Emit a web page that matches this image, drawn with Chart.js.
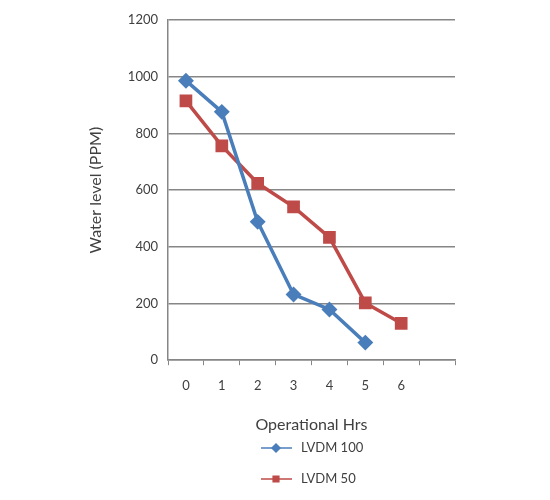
<!DOCTYPE html>
<html lang="en">
<head>
  <meta charset="UTF-8" />
  <title>Water level vs operational hours</title>
  <style>
    html, body { margin: 0; padding: 0; background: #fff; }
    #wrap { width: 550px; height: 500px; }
  </style>
</head>
<body>
  <div id="wrap"><canvas id="chart" width="550" height="500"></canvas></div>

  <script src="https://cdn.jsdelivr.net/npm/chart.js"></script>
  <script>
    // data
    const hours = ["0", "1", "2", "3", "4", "5", "6", ""];
    const lvdm100 = [986, 876, 488, 232, 179, 62];
    const lvdm50 = [915, 756, 624, 541, 433, 202, 130];
    const yTicks = [0, 200, 400, 600, 800, 1000, 1200];

    const blue = "#4a7ebb";
    const red = "#be4b48";
    const font = "Lato, 'Open Sans', sans-serif";

    // legend with line through the marker, drawn under the axis title
    const lineLegend = {
      id: "lineLegend",
      afterDraw(chart) {
        const ctx = chart.ctx;
        const items = [
          { text: "LVDM 100", color: blue, style: "rectRot", y: 448 },
          { text: "LVDM 50", color: red, style: "rect", y: 479 }
        ];
        ctx.save();
        items.forEach(it => {
          ctx.strokeStyle = it.color;
          ctx.fillStyle = it.color;
          ctx.lineWidth = 1.5;
          ctx.beginPath();
          ctx.moveTo(261, it.y);
          ctx.lineTo(292, it.y);
          ctx.stroke();
          Chart.helpers.drawPoint(ctx, { pointStyle: it.style, radius: 4, borderWidth: 1 }, 276, it.y);
          ctx.fillStyle = "#404040";
          ctx.font = "13px " + font;
          ctx.textBaseline = "middle";
          ctx.textAlign = "left";
          ctx.fillText(it.text, 301, it.y);
        });
        ctx.restore();
      }
    };

    new Chart(document.getElementById("chart"), {
      type: "line",
      data: {
        labels: hours,
        datasets: [
          {
            label: "LVDM 100",
            data: lvdm100,
            borderColor: blue,
            backgroundColor: blue,
            borderWidth: 3.5,
            pointStyle: "rectRot",
            pointRadius: 5.5,
            pointHoverRadius: 5.5,
            tension: 0
          },
          {
            label: "LVDM 50",
            data: lvdm50,
            borderColor: red,
            backgroundColor: red,
            borderWidth: 3.5,
            pointStyle: "rect",
            pointRadius: 6.5,
            pointHoverRadius: 6.5,
            tension: 0
          }
        ]
      },
      options: {
        responsive: false,
        animation: false,
        layout: { padding: { left: 86, right: 95, top: 20, bottom: 66 } },
        plugins: {
          legend: { display: false },
          tooltip: { enabled: false }
        },
        scales: {
          x: {
            offset: true,
            grid: {
              offset: true,
              drawOnChartArea: false,
              drawTicks: true,
              tickLength: 5,
              color: "#868686"
            },
            border: { color: "#868686", width: 1.5 },
            ticks: { color: "#404040", font: { family: font, size: 13 }, padding: 13, autoSkip: false, maxRotation: 0 },
            title: {
              display: true,
              text: "Operational Hrs",
              color: "#404040",
              font: { family: font, size: 16 },
              padding: { top: 8, bottom: 0 }
            }
          },
          y: {
            min: 0,
            max: 1200,
            afterBuildTicks: scale => { scale.ticks = yTicks.map(v => ({ value: v })); },
            afterFit: scale => { scale.width = 82; },
            grid: { color: "#868686", lineWidth: 1.5, drawTicks: false },
            border: { color: "#868686", width: 1.5 },
            ticks: {
              color: "#404040",
              font: { family: font, size: 13 },
              padding: 10,
              callback: v => String(v)
            },
            title: {
              display: true,
              text: "Water level (PPM)",
              color: "#404040",
              font: { family: font, size: 16 },
              padding: 0
            }
          }
        }
      },
      plugins: [lineLegend]
    });
  </script>
</body>
</html>
